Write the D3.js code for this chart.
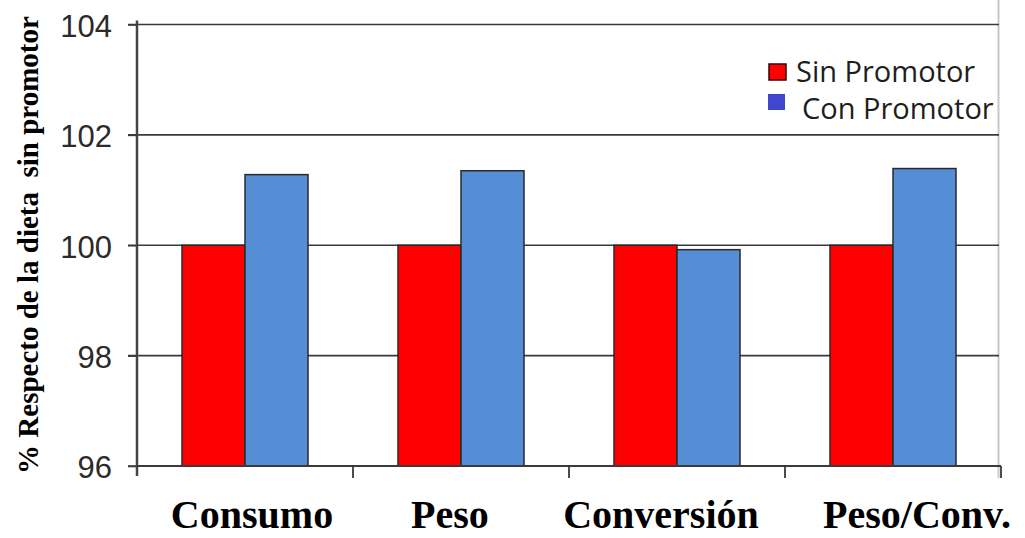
<!DOCTYPE html>
<html>
<head>
<meta charset="utf-8">
<script src="https://cdn.jsdelivr.net/npm/d3@7"></script>
<style>
  html, body { margin: 0; padding: 0; background: #fff; }
  svg { display: block; }
</style>
</head>
<body>
<svg id="chart" width="1025" height="538"></svg>
<script>
// Categories and series
const categories = ["Consumo", "Peso", "Conversión", "Peso/Conv."];
const seriesNames = ["Sin Promotor", "Con Promotor"];
const sinPromotor = [100, 100, 100, 100];
const conPromotor = [101.28, 101.35, 99.92, 101.39];
const yTicks = [96, 98, 100, 102, 104];
const yTitle = "% Respecto de la dieta  sin promotor";

const svg = d3.select("#chart");
const plotLeft = 137, plotRight = 1001, plotTop = 24.5, plotBottom = 466;

const barColors = { "Sin Promotor": "#ff0000", "Con Promotor": "#558ed5" };
const legendColors = { "Sin Promotor": "#ff0000", "Con Promotor": "#3f48cc" };

const x0 = d3.scaleBand().domain(categories).range([plotLeft, plotRight]).paddingInner(0).paddingOuter(0);
const x1 = d3.scaleBand().domain(seriesNames).range([0, x0.bandwidth()]).paddingInner(0).paddingOuter(0.714);
const y = d3.scaleLinear().domain([96, 104]).range([plotBottom, plotTop]);

const rows = categories.map((c, i) => ({
  category: c,
  values: [
    { series: "Sin Promotor", value: sinPromotor[i] },
    { series: "Con Promotor", value: conPromotor[i] }
  ]
}));

// right frame edge
svg.append("line")
  .attr("x1", 998.5).attr("x2", 998.5).attr("y1", 0).attr("y2", 478)
  .attr("stroke", "#c8c8c8").attr("stroke-width", 2);

// horizontal gridlines
svg.append("g")
  .selectAll("line")
  .data(yTicks)
  .join("line")
  .attr("x1", plotLeft - 9).attr("x2", plotRight - 2)
  .attr("y1", d => y(d)).attr("y2", d => y(d))
  .attr("stroke", "#3a3a3a").attr("stroke-width", 1.6);

// bars
svg.append("g")
  .selectAll("g")
  .data(rows)
  .join("g")
  .attr("transform", d => `translate(${x0(d.category)},0)`)
  .selectAll("rect")
  .data(d => d.values)
  .join("rect")
  .attr("x", d => x1(d.series))
  .attr("width", x1.bandwidth())
  .attr("y", d => y(d.value))
  .attr("height", d => y(96) - y(d.value))
  .attr("fill", d => barColors[d.series])
  .attr("stroke", "#2a2a2a").attr("stroke-width", 1.5);

// y axis
const yAxis = d3.axisLeft(y).tickValues(yTicks).tickSize(9).tickPadding(16).tickFormat(d3.format("d"));
const gy = svg.append("g").attr("transform", `translate(${plotLeft},0)`).call(yAxis);
gy.select(".domain").attr("stroke", "#444").attr("stroke-width", 2.5)
  .attr("d", `M0,${plotTop - 4}V${plotBottom + 10}`);
gy.selectAll(".tick line").attr("stroke", "#3a3a3a").attr("stroke-width", 1.6);
gy.selectAll(".tick text")
  .attr("font-family", "Liberation Sans, Arial, sans-serif")
  .attr("font-size", 31)
  .attr("dy", "0.38em")
  .attr("fill", "#2b2b2b");

// x axis with ticks at category boundaries
const gx = svg.append("g").attr("transform", `translate(0,${plotBottom})`);
gx.append("line")
  .attr("x1", plotLeft).attr("x2", plotRight)
  .attr("stroke", "#3a3a3a").attr("stroke-width", 1.8);
const boundaries = categories.slice(1).map(c => x0(c)).concat([plotRight]);
gx.selectAll("line.bt")
  .data(boundaries)
  .join("line")
  .attr("class", "bt")
  .attr("x1", d => d).attr("x2", d => d)
  .attr("y1", 0).attr("y2", 12)
  .attr("stroke", "#3a3a3a").attr("stroke-width", 1.8);

// category labels
const labelNudge = [7, -11, -16, 24];
svg.append("g")
  .selectAll("text")
  .data(categories)
  .join("text")
  .attr("x", (d, i) => x0(d) + x0.bandwidth() / 2 + labelNudge[i])
  .attr("y", 528)
  .attr("text-anchor", "middle")
  .attr("font-family", "Liberation Serif, Times New Roman, serif")
  .attr("font-weight", "bold")
  .attr("font-size", 40)
  .attr("fill", "#000")
  .text(d => d);

// y axis title
svg.append("text")
  .attr("transform", `translate(38,245) rotate(-90)`)
  .attr("text-anchor", "middle")
  .attr("font-family", "Liberation Serif, Times New Roman, serif")
  .attr("font-weight", "bold")
  .attr("font-size", 29)
  .attr("fill", "#000")
  .style("white-space", "pre")
  .text(yTitle);

// legend
const legend = svg.append("g");
const legendItems = [
  { name: seriesNames[0], sx: 769, sy: 64, tx: 796, ty: 82 },
  { name: seriesNames[1], sx: 768, sy: 94, tx: 802, ty: 119 }
];
legend.selectAll("rect")
  .data(legendItems)
  .join("rect")
  .attr("x", d => d.sx).attr("y", d => d.sy)
  .attr("width", 17).attr("height", 16)
  .attr("fill", d => legendColors[d.name])
  .attr("stroke", (d, i) => i === 0 ? "#3a0000" : "none")
  .attr("stroke-width", 1.5);
legend.selectAll("text")
  .data(legendItems)
  .join("text")
  .attr("x", d => d.tx).attr("y", d => d.ty)
  .attr("font-family", "Open Sans, Noto Sans, sans-serif")
  .attr("font-size", 29)
  .attr("fill", "#1e1e1e")
  .text(d => d.name);
</script>
</body>
</html>
